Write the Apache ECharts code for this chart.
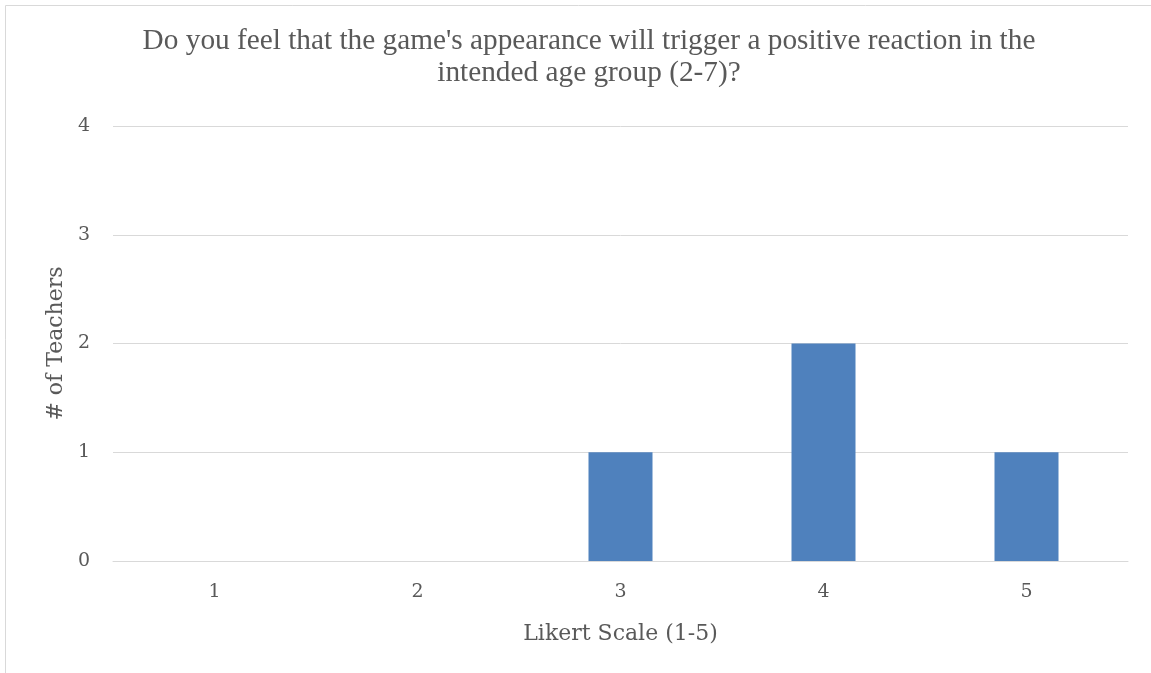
<!DOCTYPE html>
<html>
<head>
<meta charset="utf-8">
<script src="https://cdn.jsdelivr.net/npm/echarts@6/dist/echarts.min.js"></script>
<style>
  html, body { margin: 0; padding: 0; background: #fff; }
  #chart { width: 1151px; height: 673px; }
</style>
</head>
<body>
<div id="chart"></div>
<script>
const categories = ['1', '2', '3', '4', '5']
const teachers = [0, 0, 1, 2, 1]
const yTicks = [0, 1, 2, 3, 4]

const chart = echarts.init(document.getElementById('chart'))
chart.setOption({
  animation: false,
  title: {
    text: "Do you feel that the game's appearance will trigger a positive reaction in the\nintended age group (2-7)?",
    left: 584,
    top: 20,
    textAlign: 'center',
    textStyle: {
      fontFamily: 'Liberation Serif',
      fontSize: 29.3,
      fontWeight: 'normal',
      color: '#595959',
      lineHeight: 32
    }
  },
  graphic: [{
    type: 'rect',
    shape: { x: 5.5, y: 5.5, width: 1200, height: 700 },
    style: { fill: 'none', stroke: '#d9d9d9', lineWidth: 1 },
    silent: true
  }],
  grid: { left: 113, right: 23, top: 126, bottom: 112 },
  xAxis: {
    type: 'category',
    data: categories,
    name: 'Likert Scale (1-5)',
    nameLocation: 'middle',
    nameGap: 62,
    nameTextStyle: { fontFamily: 'DejaVu Serif', fontSize: 22, color: '#595959' },
    axisLine: { lineStyle: { color: '#d9d9d9', width: 1 } },
    axisTick: { show: false },
    axisLabel: { fontFamily: 'DejaVu Serif', fontSize: 19, color: '#595959', margin: 22 }
  },
  yAxis: {
    type: 'value',
    min: yTicks[0],
    max: yTicks[yTicks.length - 1],
    interval: 1,
    name: '# of Teachers',
    nameLocation: 'middle',
    nameGap: 45,
    nameTextStyle: { fontFamily: 'DejaVu Serif', fontSize: 22, color: '#595959' },
    axisLine: { show: false },
    axisTick: { show: false },
    axisLabel: { fontFamily: 'DejaVu Serif', fontSize: 19, color: '#595959', margin: 23 },
    splitLine: { lineStyle: { color: '#d9d9d9', width: 1 } }
  },
  series: [{
    type: 'bar',
    data: teachers,
    barWidth: 64,
    itemStyle: { color: '#4f81bd' }
  }]
})
</script>
</body>
</html>
